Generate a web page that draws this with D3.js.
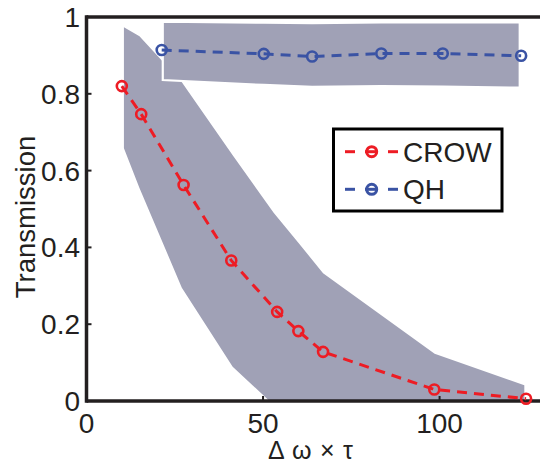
<!DOCTYPE html>
<html><head><meta charset="utf-8">
<script src="https://cdn.jsdelivr.net/npm/d3@7"></script>
<style>
html,body{margin:0;padding:0;background:#fff;}
svg{display:block;}
text{font-family:"Liberation Sans",Arial,Helvetica,sans-serif;fill:#231f20;}
</style></head>
<body>
<svg id="chart" width="540" height="464"></svg>
<script>
// ---- data ----
const crowX = [10, 15.5, 27.5, 41, 54, 60, 67, 98.5, 124.5];
const crowY = [0.82, 0.747, 0.5625, 0.366, 0.232, 0.182, 0.128, 0.030, 0.006];
const crowBandX = [10.6, 15, 27, 41.4, 53, 60, 67, 98.6, 124];
const crowBandUpper = [0.973, 0.95, 0.83, 0.64, 0.49, 0.412, 0.333, 0.123, 0.041];
const crowBandLower = [0.658, 0.555, 0.295, 0.089, -0.01, -0.02, -0.02, -0.02, -0.02];
const qhX = [21.3, 50.2, 63.9, 83.5, 100.9, 123.1];
const qhY = [0.914, 0.904, 0.897, 0.905, 0.905, 0.899];
const qhBandX = [21.6, 50.2, 63.9, 83.5, 100.9, 122.7];
const qhBandUpper = [0.988, 0.985, 0.984, 0.986, 0.986, 0.986];
const qhBandLower = [0.836, 0.823, 0.818, 0.820, 0.819, 0.816];
const xTicks = [0, 50, 100];
const yTicks = [0, 0.2, 0.4, 0.6, 0.8, 1];
const yTickLabels = ["0", "0.2", "0.4", "0.6", "0.8", "1"];
const seriesNames = ["CROW", "QH"];

const colRed = "#ed1c24", colBlue = "#3a53a4", colBand = "#a0a1b6", colInk = "#231f20";

const svg = d3.select("#chart");
const x = d3.scaleLinear().domain([0, 130]).range([86.5, 545.5]);
const y = d3.scaleLinear().domain([0, 1]).range([401, 17]);

svg.append("defs").append("clipPath").attr("id", "plotclip")
  .append("rect").attr("x", x(0)).attr("y", y(1)).attr("width", x(130) - x(0)).attr("height", y(0) - y(1));

const plot = svg.append("g").attr("clip-path", "url(#plotclip)");

const crowBand = crowBandX.map((d, i) => ({x: d, lo: crowBandLower[i], hi: crowBandUpper[i]}));
const qhBand = qhBandX.map((d, i) => ({x: d, lo: qhBandLower[i], hi: qhBandUpper[i]}));
const area = d3.area().x(d => x(d.x)).y0(d => y(d.lo)).y1(d => y(d.hi));

plot.append("path").attr("d", area(crowBand)).attr("fill", colBand);
plot.append("path").attr("d", area(qhBand)).attr("fill", colBand)
  .attr("stroke", "#fff").attr("stroke-width", 2.2).attr("stroke-linejoin", "miter");

// axes box lines
const axisG = svg.append("g");
axisG.append("line").attr("x1", x(0)).attr("x2", 545.5).attr("y1", y(0)).attr("y2", y(0))
  .attr("stroke", colInk).attr("stroke-width", 3.5);
axisG.append("line").attr("x1", x(0)).attr("x2", 545.5).attr("y1", y(1)).attr("y2", y(1))
  .attr("stroke", colInk).attr("stroke-width", 3.5);
axisG.append("line").attr("x1", x(0)).attr("x2", x(0)).attr("y1", y(1) - 1.75).attr("y2", y(0) + 1.75)
  .attr("stroke", colInk).attr("stroke-width", 3.5);

// ticks
yTicks.forEach((t, i) => {
  axisG.append("line").attr("x1", x(0)).attr("x2", x(0) + 5).attr("y1", y(t)).attr("y2", y(t))
    .attr("stroke", colInk).attr("stroke-width", 2);
  axisG.append("text").attr("x", 80).attr("y", y(t)).attr("dy", "0.36em")
    .attr("text-anchor", "end").attr("font-size", 28).text(yTickLabels[i]);
});
xTicks.forEach(t => {
  axisG.append("line").attr("x1", x(t)).attr("x2", x(t)).attr("y1", y(0)).attr("y2", y(0) - 5)
    .attr("stroke", colInk).attr("stroke-width", 2);
  axisG.append("text").attr("x", x(t)).attr("y", 433)
    .attr("text-anchor", "middle").attr("font-size", 28).text(String(t));
});

// axis titles
svg.append("text").attr("transform", "translate(35,217) rotate(-90)")
  .attr("text-anchor", "middle").attr("font-size", 27.5).text("Transmission");
svg.append("text").attr("x", 268).attr("y", 459)
  .attr("font-family", "'Liberation Serif','DejaVu Serif',serif").attr("font-size", 25)
  .attr("textLength", 85).attr("lengthAdjust", "spacing").text("Δ ω × τ");

// series
const line = d3.line().x(d => x(d[0])).y(d => y(d[1]));
const series = [
  {name: seriesNames[0], color: colRed, pts: crowX.map((d, i) => [d, crowY[i]])},
  {name: seriesNames[1], color: colBlue, pts: qhX.map((d, i) => [d, qhY[i]])}
];
const sg = svg.append("g");
series.forEach(s => {
  sg.append("path").attr("d", line(s.pts)).attr("fill", "none").attr("stroke", s.color)
    .attr("stroke-width", 3).attr("stroke-dasharray", "10,7");
  sg.selectAll(null).data(s.pts).enter().append("circle")
    .attr("cx", d => x(d[0])).attr("cy", d => y(d[1])).attr("r", 5)
    .attr("fill", "none").attr("stroke", s.color).attr("stroke-width", 2.6);
});

// legend
const lg = svg.append("g");
lg.append("rect").attr("x", 333.5).attr("y", 129).attr("width", 168.5).attr("height", 82)
  .attr("fill", "#fff").attr("stroke", "#000").attr("stroke-width", 3);
series.forEach((s, i) => {
  const cy = 151.7 + i * 37.6;
  [[345, 355], [365, 378], [388, 398]].forEach(seg => {
    lg.append("line").attr("x1", seg[0]).attr("x2", seg[1]).attr("y1", cy).attr("y2", cy)
      .attr("stroke", s.color).attr("stroke-width", 3);
  });
  lg.append("circle").attr("cx", 371.7).attr("cy", cy).attr("r", 5)
    .attr("fill", "none").attr("stroke", s.color).attr("stroke-width", 3);
  lg.append("text").attr("x", 403).attr("y", cy).attr("dy", "0.36em")
    .attr("font-size", 28).text(s.name);
});
</script>
</body></html>
